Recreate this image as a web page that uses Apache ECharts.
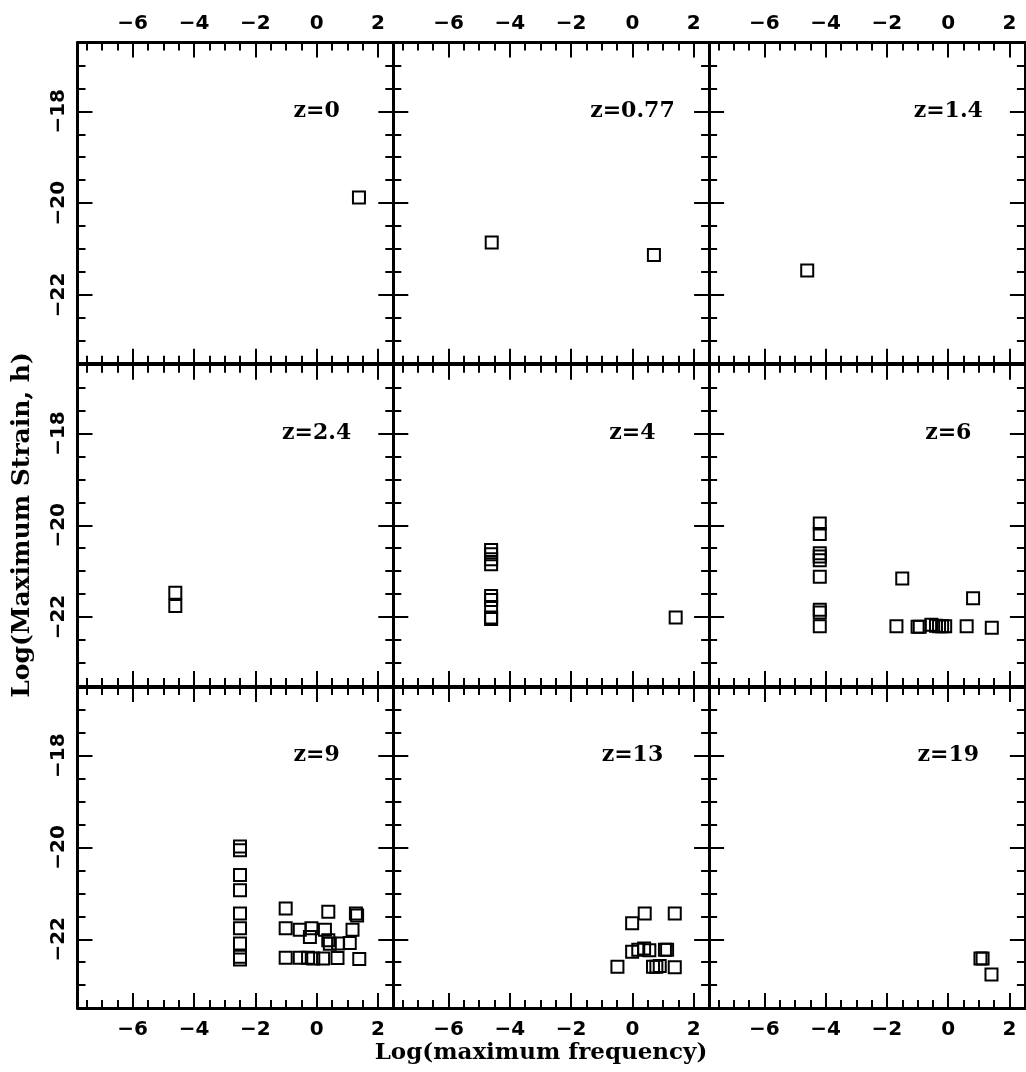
<!DOCTYPE html>
<html><head><meta charset="utf-8">
<script src="https://cdn.jsdelivr.net/npm/echarts@6/dist/echarts.min.js"></script>
<style>html,body{margin:0;padding:0;background:#fff}#c{width:1026px;height:1072px}</style>
</head><body><div id="c"></div>
<script>
// ---- data ----
const panelLabels = ['z=0','z=0.77','z=1.4','z=2.4','z=4','z=6','z=9','z=13','z=19'];
const labelPos = [[0,-18]];
const xMajorTicks = [-6,-4,-2,0,2];
const xMinorTicks = [-7.5,-7,-6.5,-5.5,-5,-4.5,-3.5,-3,-2.5,-1.5,-1,-0.5,0.5,1,1.5];
const yMajorTicks = [-22,-20,-18];
const yMinorTicks = [-23,-22.5,-21.5,-21,-20.5,-19.5,-19,-18.5,-17.5,-17];
const xRange = [-7.8, 2.5];
const yRange = [-23.5, -16.5];

const z0   = [[1.38,-19.88]];
const z077 = [[-4.59,-20.86],[0.70,-21.13]];
const z14  = [[-4.60,-21.47]];
const z24  = [[-4.61,-21.47],[-4.61,-21.76]];
const z4   = [[-4.61,-20.54],[-4.61,-20.63],[-4.61,-20.74],[-4.61,-20.85],
              [-4.61,-21.54],[-4.61,-21.63],[-4.61,-21.78],[-4.61,-22.01],[-4.61,-22.04],
              [1.41,-22.01]];
const z6   = [[-4.19,-19.96],[-4.19,-20.19],[-4.19,-20.61],[-4.19,-20.68],[-4.19,-20.76],
              [-4.19,-21.12],[-4.19,-21.84],[-4.19,-21.90],[-4.19,-22.20],
              [-1.69,-22.20],[-1.00,-22.21],[-0.93,-22.21],[-0.55,-22.17],[-0.40,-22.19],
              [-0.30,-22.20],[-0.20,-22.20],[-0.10,-22.20],[0.60,-22.20],[1.42,-22.23],
              [-1.50,-21.16],[0.81,-21.59]];
const z9   = [[-2.50,-19.98],[-2.50,-20.06],[-2.50,-20.60],[-2.50,-20.93],[-2.50,-21.44],
              [-2.50,-21.76],[-2.50,-22.09],[-2.50,-22.38],[-2.50,-22.44],
              [-1.01,-21.33],[-1.01,-21.76],[-1.01,-22.40],[-0.55,-21.79],[-0.55,-22.40],
              [-0.17,-21.76],[-0.22,-21.95],[-0.28,-22.40],[-0.11,-22.42],[0.27,-21.79],
              [0.21,-22.42],[0.38,-21.40],[0.38,-22.02],[0.43,-22.10],[0.70,-22.09],
              [0.68,-22.41],[1.08,-22.08],[1.17,-21.79],[1.28,-21.44],[1.32,-21.48],
              [1.39,-22.43]];
const z13  = [[-0.01,-21.65],[0.40,-21.44],[1.38,-21.44],[-0.49,-22.60],[-0.01,-22.27],
              [0.19,-22.23],[0.38,-22.20],[0.55,-22.24],[0.67,-22.60],[0.78,-22.60],
              [0.89,-22.58],[1.06,-22.23],[1.13,-22.23],[1.38,-22.61]];
const z19  = [[1.05,-22.42],[1.12,-22.42],[1.41,-22.77]];
const panelData = [z0, z077, z14, z24, z4, z6, z9, z13, z19];

const xTitle = 'Log(maximum frequency)';
const yTitle = 'Log(Maximum Strain, h)';

// ---- layout ----
const L = [77.5, 393.3, 709.1], T = [42.5, 364.7, 686.9], W = 315.8, H = 321.2;
const numFont = 'DejaVu Sans', txtFont = 'DejaVu Serif';
const fmt = v => (v < 0 ? '\u2212' + Math.abs(v) : String(v));
const labStyle = {color:'#000', fontFamily:numFont, fontWeight:'bold', fontSize:20};

const grids = [], xAxes = [], yAxes = [], series = [];
for (let i = 0; i < 9; i++) {
  const r = Math.floor(i / 3), c = i % 3;
  grids.push({left:L[c], top:T[r], width:W, height:H, containLabel:false});
  const xb = {type:'value', gridIndex:i, min:xRange[0], max:xRange[1], splitLine:{show:false}, minorTick:{show:false}};
  ['bottom','top'].forEach(pos => {
    const show = (pos === 'top' && r === 0) || (pos === 'bottom' && r === 2);
    xAxes.push(Object.assign({}, xb, {position:pos,
      axisLine:{show:true, onZero:false, lineStyle:{color:'#000', width:3}},
      axisTick:{show:true, inside:true, length:15, customValues:xMajorTicks, lineStyle:{color:'#000', width:2}},
      axisLabel:Object.assign({show:show, customValues:xMajorTicks, formatter:fmt, margin:pos==='top'?9:12}, labStyle)}));
    xAxes.push(Object.assign({}, xb, {position:pos,
      axisLine:{show:false, onZero:false},
      axisTick:{show:true, inside:true, length:8, customValues:xMinorTicks, lineStyle:{color:'#000', width:2}},
      axisLabel:{show:false}}));
  });
  const yb = {type:'value', gridIndex:i, min:yRange[0], max:yRange[1], splitLine:{show:false}, minorTick:{show:false}};
  ['left','right'].forEach(pos => {
    const show = (pos === 'left' && c === 0);
    yAxes.push(Object.assign({}, yb, {position:pos,
      axisLine:{show:true, onZero:false, lineStyle:{color:'#000', width:3}},
      axisTick:{show:true, inside:true, length:15, customValues:yMajorTicks, lineStyle:{color:'#000', width:2}},
      axisLabel:Object.assign({show:show, customValues:yMajorTicks, formatter:fmt, rotate:90, margin:9}, labStyle)}));
    yAxes.push(Object.assign({}, yb, {position:pos,
      axisLine:{show:false, onZero:false},
      axisTick:{show:true, inside:true, length:8, customValues:yMinorTicks, lineStyle:{color:'#000', width:2}},
      axisLabel:{show:false}}));
  });
  series.push({type:'scatter', xAxisIndex:i*4, yAxisIndex:i*4, data:panelData[i],
    symbol:'rect', symbolSize:12, silent:true,
    itemStyle:{color:'rgba(0,0,0,0)', borderColor:'#000', borderWidth:2, opacity:1}});
  series.push({type:'scatter', xAxisIndex:i*4, yAxisIndex:i*4, data:labelPos,
    symbolSize:1, silent:true, itemStyle:{color:'rgba(0,0,0,0)', opacity:1},
    label:{show:true, position:'inside', formatter:panelLabels[i], color:'#000', opacity:1,
      fontFamily:txtFont, fontWeight:'bold', fontSize:22}});
}

const chart = echarts.init(document.getElementById('c'), null, {renderer:'canvas'});
chart.setOption({
  animation:false,
  backgroundColor:'#fff',
  grid:grids, xAxis:xAxes, yAxis:yAxes, series:series,
  graphic:[
    {type:'text', x:541, y:1053, silent:true,
     style:{text:xTitle, fill:'#000', font:'bold 23px "DejaVu Serif"', textAlign:'center', textVerticalAlign:'middle'}},
    {type:'text', x:22, y:525, rotation:Math.PI/2, silent:true,
     style:{text:yTitle, fill:'#000', font:'bold 25px "DejaVu Serif"', textAlign:'center', textVerticalAlign:'middle'}}
  ]
});
</script></body></html>
